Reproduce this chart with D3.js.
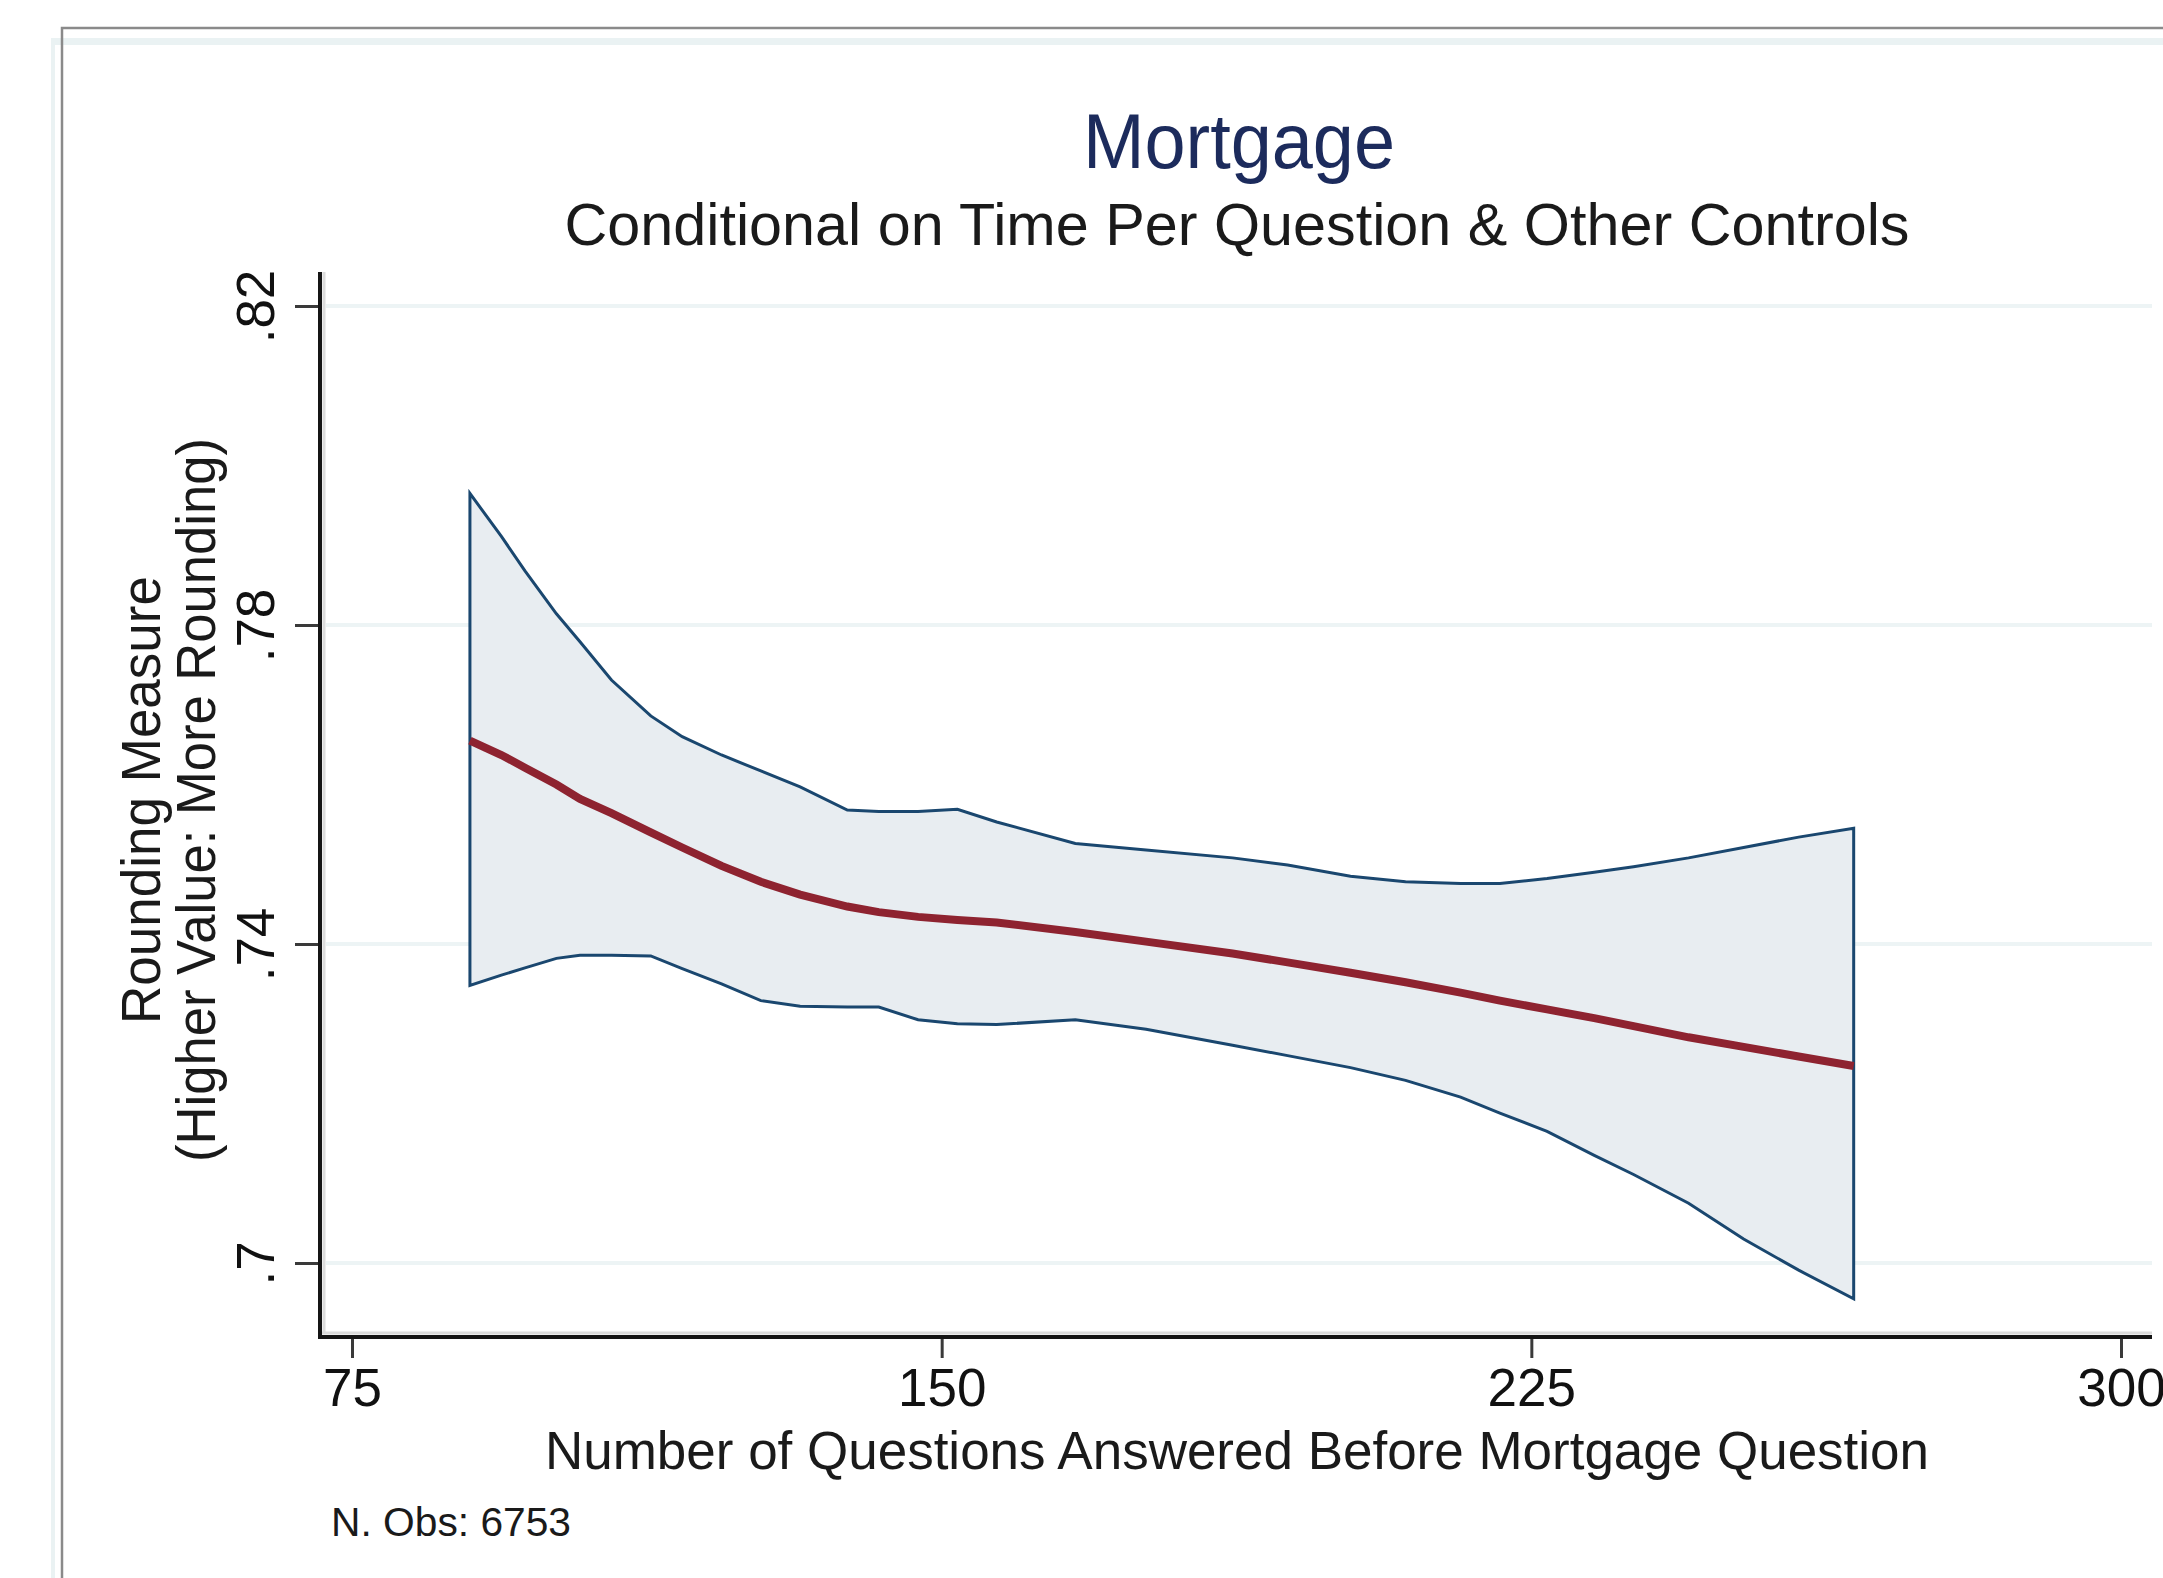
<!DOCTYPE html>
<html>
<head>
<meta charset="utf-8">
<script src="https://cdn.jsdelivr.net/npm/d3@7"></script>
<style>
  body { margin: 0; background: #fff; }
  text { font-family: "Liberation Sans", Arial, sans-serif; }
</style>
</head>
<body>
<div id="chart"></div>
<script>
// Data
var qCount = [90, 94, 97, 101, 104, 108, 113, 117, 122, 127, 132, 138, 142, 147, 152, 157,
  167, 176, 187, 194, 202, 209, 216, 221, 227, 233, 238, 245, 252, 259, 266];
var ciUpper = [0.7965, 0.7911, 0.7868, 0.7814, 0.7779, 0.7731, 0.7686, 0.7660, 0.7637, 0.7617,
  0.7597, 0.7568, 0.7566, 0.7566, 0.7569, 0.7553, 0.7526, 0.7518, 0.7508, 0.7499, 0.7485,
  0.7478, 0.7476, 0.7476, 0.7482, 0.7490, 0.7497, 0.7508, 0.7521, 0.7534, 0.7545];
var ciLower = [0.7348, 0.7361, 0.7370, 0.7382, 0.7386, 0.7386, 0.7385, 0.7369, 0.7350, 0.7329,
  0.7322, 0.7321, 0.7321, 0.7305, 0.7300, 0.7299, 0.7305, 0.7293, 0.7273, 0.7260, 0.7245,
  0.7229, 0.7208, 0.7188, 0.7165, 0.7135, 0.7111, 0.7075, 0.7030, 0.6991, 0.6955];
var fitted = [0.7655, 0.7637, 0.7621, 0.7600, 0.7582, 0.7564, 0.7540, 0.7521, 0.7498, 0.7478,
  0.7462, 0.7447, 0.7440, 0.7434, 0.7430, 0.7427, 0.7415, 0.7403, 0.7388, 0.7377, 0.7364,
  0.7352, 0.7339, 0.7329, 0.7318, 0.7307, 0.7297, 0.7283, 0.7271, 0.7259, 0.7247];

var xTicks = [75, 150, 225, 300];
var yTicks = [0.7, 0.74, 0.78, 0.82];
var yTickLabels = [".7", ".74", ".78", ".82"];

var titleText = "Mortgage";
var subtitleText = "Conditional on Time Per Question & Other Controls";
var xTitle = "Number of Questions Answered Before Mortgage Question";
var yTitle1 = "Rounding Measure";
var yTitle2 = "(Higher Value: More Rounding)";
var noteText = "N. Obs: 6753";

var svgWidth = 2163;
var svgHeight = 1578;

var svg = d3.select("#chart")
  .append("svg")
  .attr("width", svgWidth)
  .attr("height", svgHeight)
  .style("display", "block");

// outer frame bits of the screenshot
svg.append("rect").attr("x", 51).attr("y", 38).attr("width", svgWidth - 51).attr("height", 7).attr("fill", "#eaf2f3");
svg.append("rect").attr("x", 51).attr("y", 38).attr("width", 4).attr("height", svgHeight - 38).attr("fill", "#eaf2f3");
svg.append("path")
  .attr("d", `M62,${svgHeight} V28 H${svgWidth}`)
  .attr("fill", "none")
  .attr("stroke", "#8a8a8a")
  .attr("stroke-width", 2.5);

var plotLeft = 320, plotRight = 2152, plotTop = 272, plotBottom = 1337;

// Scales
var xScale = d3.scaleLinear().domain([75, 300]).range([352, 2121]);
var yScale = d3.scaleLinear().domain([0.7, 0.82]).range([1263, 306]);

// gridlines
svg.append("g")
  .selectAll("line")
  .data(yTicks)
  .enter()
  .append("line")
  .attr("x1", plotLeft + 6)
  .attr("x2", plotRight)
  .attr("y1", d => yScale(d))
  .attr("y2", d => yScale(d))
  .attr("stroke", "#edf4f5")
  .attr("stroke-width", 4);

// confidence band
var rows = qCount.map((q, i) => ({ q: q, lo: ciLower[i], hi: ciUpper[i], fit: fitted[i] }));

var band = d3.area()
  .x(d => xScale(d.q))
  .y0(d => yScale(d.lo))
  .y1(d => yScale(d.hi));

svg.append("path")
  .datum(rows)
  .attr("d", d => band(d) + "Z")
  .attr("fill", "#e8edf1")
  .attr("stroke", "#1a476f")
  .attr("stroke-width", 3)
  .attr("stroke-linejoin", "miter");

var fitLine = d3.line()
  .x(d => xScale(d.q))
  .y(d => yScale(d.fit));

svg.append("path")
  .datum(rows)
  .attr("d", fitLine)
  .attr("fill", "none")
  .attr("stroke", "#8e2330")
  .attr("stroke-width", 8);

// axes
var bottomAxis = d3.axisBottom(xScale)
  .tickValues(xTicks)
  .tickSize(21)
  .tickPadding(10)
  .tickFormat(d3.format("d"));

var leftAxis = d3.axisLeft(yScale)
  .tickValues(yTicks)
  .tickSize(25)
  .tickPadding(0)
  .tickFormat((d, i) => yTickLabels[i]);

var xAxisG = svg.append("g")
  .attr("transform", `translate(0, ${plotBottom})`)
  .call(bottomAxis);

var yAxisG = svg.append("g")
  .attr("transform", `translate(${plotLeft}, 0)`)
  .call(leftAxis);

xAxisG.select(".domain").remove();
yAxisG.select(".domain").remove();

xAxisG.selectAll(".tick line").attr("stroke", "#3a3a3a").attr("stroke-width", 3);
yAxisG.selectAll(".tick line").attr("stroke", "#3a3a3a").attr("stroke-width", 3);

xAxisG.selectAll(".tick text")
  .attr("font-size", 53)
  .attr("fill", "#111")
  .attr("y", 0)
  .attr("dy", 0)
  .attr("transform", "translate(0, 69)");

yAxisG.selectAll(".tick text")
  .attr("font-size", 53)
  .attr("fill", "#111")
  .attr("x", 0)
  .attr("dy", 0)
  .attr("text-anchor", "middle")
  .attr("transform", "translate(-46, 0) rotate(-90)");

// axis lines with light halo
svg.append("line").attr("x1", plotLeft + 4).attr("x2", plotLeft + 4).attr("y1", plotTop).attr("y2", plotBottom - 3)
  .attr("stroke", "#dcdcdc").attr("stroke-width", 3);
svg.append("line").attr("x1", plotLeft).attr("x2", plotRight).attr("y1", plotBottom - 4).attr("y2", plotBottom - 4)
  .attr("stroke", "#dcdcdc").attr("stroke-width", 3);
svg.append("line").attr("x1", plotLeft).attr("x2", plotLeft).attr("y1", plotTop).attr("y2", plotBottom + 2)
  .attr("stroke", "#151515").attr("stroke-width", 4);
svg.append("line").attr("x1", plotLeft - 2).attr("x2", plotRight).attr("y1", plotBottom).attr("y2", plotBottom)
  .attr("stroke", "#151515").attr("stroke-width", 4);

// titles
svg.append("text")
  .attr("x", 1239)
  .attr("y", 168)
  .attr("text-anchor", "middle")
  .attr("font-size", 78)
  .attr("fill", "#1c2b5c")
  .attr("textLength", 312)
  .attr("lengthAdjust", "spacingAndGlyphs")
  .text(titleText);

svg.append("text")
  .attr("x", 1237)
  .attr("y", 245)
  .attr("text-anchor", "middle")
  .attr("font-size", 60)
  .attr("fill", "#1a1a1a")
  .attr("textLength", 1345)
  .attr("lengthAdjust", "spacingAndGlyphs")
  .text(subtitleText);

svg.append("text")
  .attr("x", 1237)
  .attr("y", 1469)
  .attr("text-anchor", "middle")
  .attr("font-size", 53)
  .attr("fill", "#1a1a1a")
  .attr("textLength", 1384)
  .attr("lengthAdjust", "spacingAndGlyphs")
  .text(xTitle);

svg.append("text")
  .attr("transform", "translate(160, 800) rotate(-90)")
  .attr("text-anchor", "middle")
  .attr("font-size", 55)
  .attr("fill", "#1a1a1a")
  .attr("textLength", 448)
  .attr("lengthAdjust", "spacingAndGlyphs")
  .text(yTitle1);

svg.append("text")
  .attr("transform", "translate(215, 800) rotate(-90)")
  .attr("text-anchor", "middle")
  .attr("font-size", 55)
  .attr("fill", "#1a1a1a")
  .attr("textLength", 724)
  .attr("lengthAdjust", "spacingAndGlyphs")
  .text(yTitle2);

svg.append("text")
  .attr("x", 331)
  .attr("y", 1536)
  .attr("font-size", 40)
  .attr("fill", "#1a1a1a")
  .attr("textLength", 240)
  .attr("lengthAdjust", "spacingAndGlyphs")
  .text(noteText);
</script>
</body>
</html>
